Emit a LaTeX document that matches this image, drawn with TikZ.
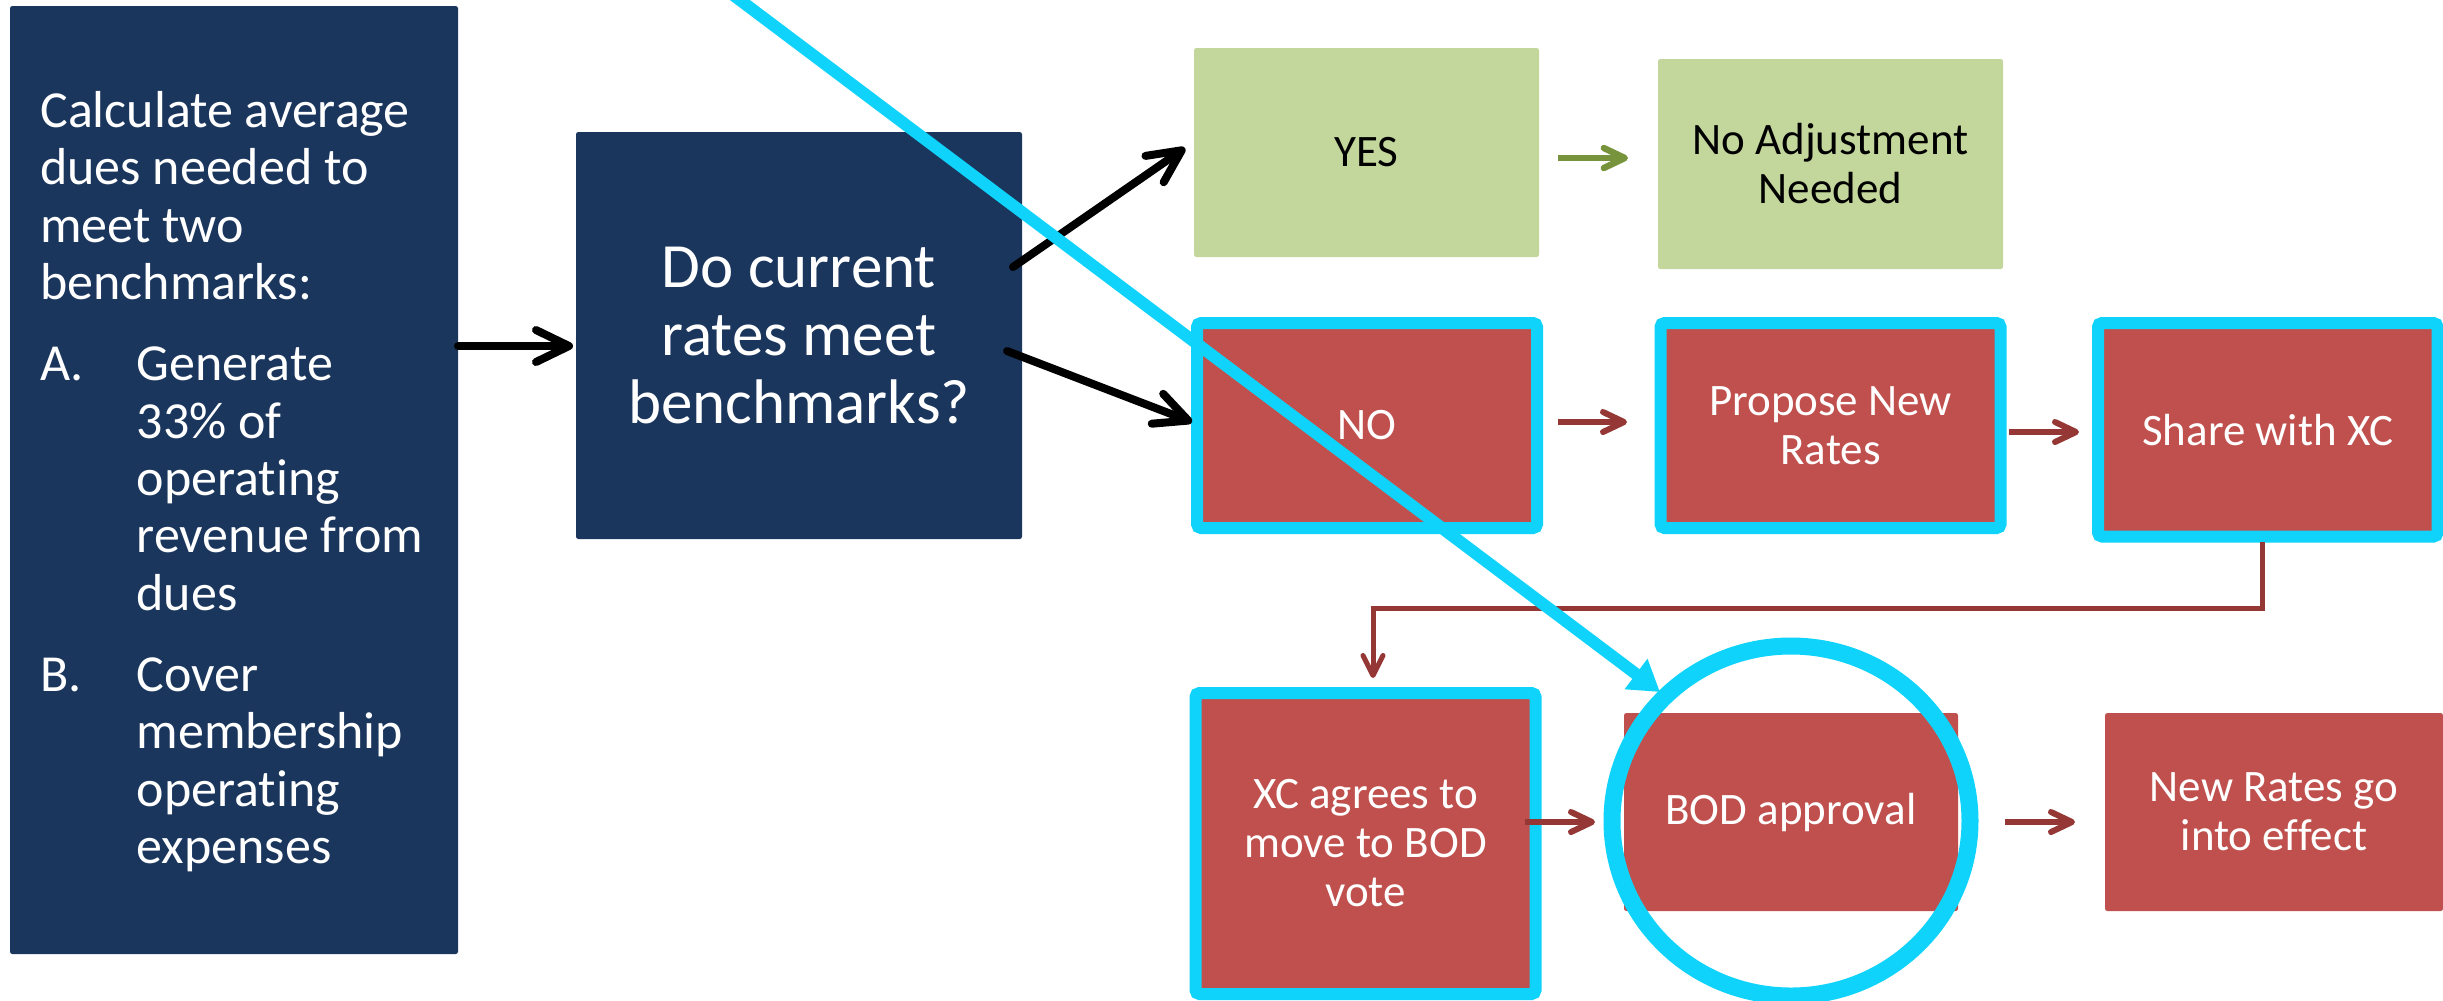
\documentclass[tikz,border=0pt]{standalone}
\usepackage{fontspec}
\setmainfont{Carlito}[Ligatures={NoCommon}]
\usetikzlibrary{arrows.meta,shapes.geometric,calc}
\definecolor{navy}{HTML}{1B365D}
\definecolor{boxred}{HTML}{C0504D}
\definecolor{boxgreen}{HTML}{C3D69B}
\definecolor{arrowgreen}{HTML}{77933C}
\definecolor{arrowred}{HTML}{953735}
\definecolor{hicyan}{HTML}{0FD3FA}
\newcommand\leftfont{\fontsize{13pt}{14.33pt}\selectfont}
\newcommand\qfont{\fontsize{15.75pt}{17.1pt}\selectfont}
\newcommand\boxfont{\fontsize{11.25pt}{12.25pt}\selectfont}
\tikzset{
  basebox/.style={inner sep=0pt, outer sep=0pt, rounded corners=0.6pt, align=center},
  navybox/.style={basebox, fill=navy, text=white},
  greenbox/.style={basebox, fill=boxgreen, text=black, font=\boxfont},
  redbox/.style={basebox, fill=boxred, text=white, font=\boxfont},
  hilite/.style={draw=hicyan, line width=3pt, rounded corners=1pt},
  blackarrow/.style={draw=black, line width=2pt, line cap=round,
    -{Straight Barb[length=8.25pt,width=8pt,line cap=round,line join=round]}},
  redarrow/.style={draw=arrowred, line width=1.5pt,
    -{Straight Barb[length=5.25pt,width=5pt,line cap=round,line join=round]}},
  greenarrow/.style={draw=arrowgreen, line width=1.6pt,
    -{Straight Barb[length=5.25pt,width=5pt,line cap=round,line join=round]}},
  redline/.style={draw=arrowred, line width=1.25pt,
    -{Straight Barb[length=5pt,width=5pt,line cap=round,line join=round]}},
  cyanarrow/.style={draw=hicyan, line width=3pt,
    -{Triangle[length=7.5pt,width=9pt]}},
}
\begin{document}
\begin{tikzpicture}[x=0.25pt,y=-0.25pt]
\useasboundingbox (0,0) rectangle (2443,1000);
\fill[white] (0,0) rectangle (2443,1000);
\clip (0,0) rectangle (2443,1000);

% left box
\node[navybox, minimum width=112pt, minimum height=237pt] (calc) at (234,480) {};
\node[anchor=base west, inner sep=0pt, text=white] (calctext) at (39.5,127.5)
 {\parbox[t]{110pt}{\leftfont\setlength{\parskip}{6pt}\setlength{\parindent}{0pt}%
 Calculate average\\dues needed to\\meet two\\benchmarks:\par
 \makebox[24.1pt][l]{A.}Generate\\\hspace*{24.1pt}33\% of\\\hspace*{24.1pt}operating\\\hspace*{24.1pt}revenue from\\\hspace*{24.1pt}dues\par
 \makebox[24.1pt][l]{B.}Cover\\\hspace*{24.1pt}membership\\\hspace*{24.1pt}operating\\\hspace*{24.1pt}expenses\par}};

% question box
\node[navybox, font=\qfont, minimum width=111.5pt, minimum height=101.75pt] (q) at (799,335.5)
 {Do current\\rates meet\\benchmarks?};

% yes branch
\node[greenbox, minimum width=86.25pt, minimum height=52.25pt] (yes) at (1366.5,152.5) {YES};
\node[greenbox, minimum width=86.25pt, minimum height=52.5pt] (noadj) at (1830.5,164) {No Adjustment\\Needed};

% no branch
\node[redbox, hilite, minimum width=85pt, minimum height=51.25pt] (no) at (1367,425.5) {NO};
\node[redbox, hilite, minimum width=85pt, minimum height=51.25pt] (prop) at (1830.5,425.5) {Propose New\\Rates};
\node[redbox, hilite, minimum width=84.875pt, minimum height=53.375pt] (share) at (2267.75,429.75) {Share with XC};

% bottom row
\node[redbox, hilite, minimum width=85pt, minimum height=75.25pt] (xc) at (1365.5,843.5) {XC agrees to\\move to BOD\\vote};
\node[redbox, minimum width=83.5pt, minimum height=49.5pt] (bod) at (1791,812) {BOD approval};
\node[redbox, minimum width=84.5pt, minimum height=49.5pt] (newr) at (2274,812) {New Rates go\\into effect};

% black arrows
\draw[blackarrow] ([shift={(0,-134)}]calc.east) -- ([shift={(-3,10.5)}]q.west);
\draw[blackarrow] ([shift={(-9,-68.5)}]q.east) -- ([shift={(-9,-4.5)}]yes.west);
\draw[blackarrow] ([shift={(-15,15.5)}]q.east) -- ([shift={(-5,-3.5)}]no.west);

% green arrow
\draw[greenarrow] ([shift={(19,5.5)}]yes.east) -- ([shift={(-30,-6)}]noadj.west);

% red arrows
\draw[redarrow] ([shift={(21,-3.5)}]no.east) -- ([shift={(-33.5,-3.5)}]prop.west);
\draw[redarrow] ([shift={(8.5,6.5)}]prop.east) -- ([shift={(-19,2.25)}]share.west);
\draw[redarrow] ([shift={(-10.5,-21.5)}]xc.east) -- ([shift={(-29,10)}]bod.west);
\draw[redarrow] ([shift={(47,10)}]bod.east) -- ([shift={(-30,10)}]newr.west);

% connector share -> xc
\draw[redline, line join=miter] ([shift={(-5.75,5.5)}]share.south) -- ++(0,66) -| ([shift={(7.5,-15)}]xc.north);

% cyan highlight
\node[ellipse, draw=hicyan, line width=4.25pt, inner sep=0pt, minimum width=89.5pt, minimum height=87.5pt] (ring) at (1791,821) {};
\coordinate (cstart) at (700,-30);
\draw[cyanarrow] (cstart) -- ([shift={(-131,-129)}]ring.center);
\end{tikzpicture}
\end{document}
